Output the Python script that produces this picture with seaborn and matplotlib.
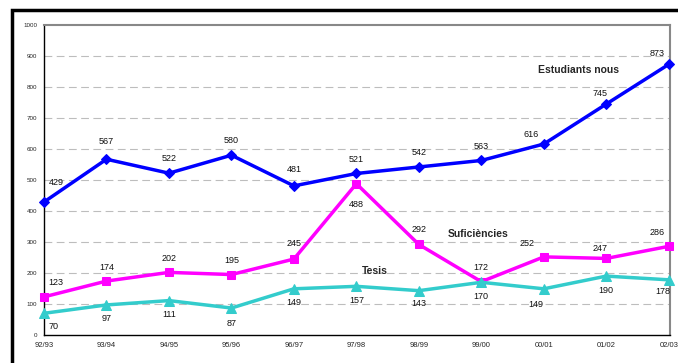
import pandas as pd
import matplotlib
matplotlib.use("Agg")
import matplotlib.pyplot as plt
import seaborn as sns
from matplotlib.patches import Rectangle

# Dades del gràfic
cursos = ["92/93", "93/94", "94/95", "95/96", "96/97", "97/98",
          "98/99", "99/00", "00/01", "01/02", "02/03"]
estudiants_nous = [429, 567, 522, 580, 481, 521, 542, 563, 616, 745, 873]
suficiencies = [123, 174, 202, 195, 245, 488, 292, 172, 252, 247, 286]
tesis = [70, 97, 111, 87, 149, 157, 143, 170, 149, 190, 178]

series = {
    "Estudiants nous": estudiants_nous,
    "Suficiències": suficiencies,
    "Tesis": tesis,
}

# desplaçament de les etiquetes (px)
offsets = {
    "Estudiants nous": [(12, 20), (0, 18), (0, 15), (0, 15), (0, 16), (0, 14),
                        (0, 14), (0, 14), (-13, 10), (-6, 11), (-12, 11)],
    "Suficiències": [(12, 14), (0, 14), (0, 14), (0, 14), (0, 16), (0, -21),
                     (0, 15), (0, 14), (-17, 13), (-6, 10), (-12, 14)],
    "Tesis": [(10, -13), (0, -14), (0, -14), (0, -15), (0, -14), (0, -14),
              (0, -13), (0, -14), (-8, -16), (0, -14), (-6, -12)],
}
colors = {"Estudiants nous": "#0000FF", "Suficiències": "#FF00FF", "Tesis": "#33CCCC"}
markers = {"Estudiants nous": "D", "Suficiències": "s", "Tesis": "^"}
marker_sizes = {"Estudiants nous": 5.5, "Suficiències": 6, "Tesis": 6.5}

rows = []
for name, vals in series.items():
    for i, v in enumerate(vals):
        rows.append({"curs": i, "valor": v, "serie": name})
df = pd.DataFrame(rows)

sns.set_style("white")
plt.rcParams["font.family"] = ["Liberation Sans", "DejaVu Sans"]

fig = plt.figure(figsize=(6.78, 3.63), dpi=100)
ax = fig.add_axes([44 / 678, 28 / 363, 626 / 678, 310 / 363])

# marc exterior
fig.patches.append(Rectangle((12 / 678, -0.1), 1.2, (353 / 363) + 0.1,
                             transform=fig.transFigure, fill=False,
                             edgecolor="black", linewidth=2.5))

for name in series:
    sub = df[df["serie"] == name]
    sns.lineplot(data=sub, x="curs", y="valor", ax=ax, color=colors[name],
                 marker=markers[name], markersize=marker_sizes[name],
                 markeredgecolor=colors[name], linewidth=2.5, clip_on=False,
                 zorder=3)
    for i, v in enumerate(series[name]):
        dx, dy = offsets[name][i]
        ax.annotate(str(v), (i, v), xytext=(dx * 0.72, dy * 0.72),
                    textcoords="offset points", ha="center", va="center",
                    fontsize=6.5, color="#111111")

ax.text(8.55, 855, "Estudiants nous", fontsize=7.5, fontweight="bold", ha="center", va="center")
ax.text(6.95, 325, "Suficiències", fontsize=7.5, fontweight="bold", ha="center", va="center")
ax.text(5.3, 205, "Tesis", fontsize=7.5, fontweight="bold", ha="center", va="center")

ax.set_xlim(0, 10.02)
ax.set_ylim(0, 1000)
ax.set_xticks(range(len(cursos)))
ax.set_xticklabels(cursos, fontsize=5.5)
ax.set_yticks(range(0, 1001, 100))
ax.set_yticklabels([str(t) for t in range(0, 1001, 100)], fontsize=4.5)
ax.tick_params(axis="both", direction="out", length=3, width=0.8, pad=2, color="black")
ax.set_xlabel("")
ax.set_ylabel("")

for t in range(100, 1000, 100):
    ax.axhline(t, color="#BDBDBD", linestyle=(0, (7, 4)), linewidth=0.8, zorder=1)

ax.spines["left"].set_color("black")
ax.spines["bottom"].set_color("black")
ax.spines["left"].set_linewidth(1)
ax.spines["bottom"].set_linewidth(1)
ax.spines["top"].set_color("#888888")
ax.spines["right"].set_color("#888888")
ax.spines["top"].set_linewidth(1.5)
ax.spines["right"].set_linewidth(1.5)
if ax.get_legend():
    ax.get_legend().remove()

fig.savefig("out.png", dpi=100)
